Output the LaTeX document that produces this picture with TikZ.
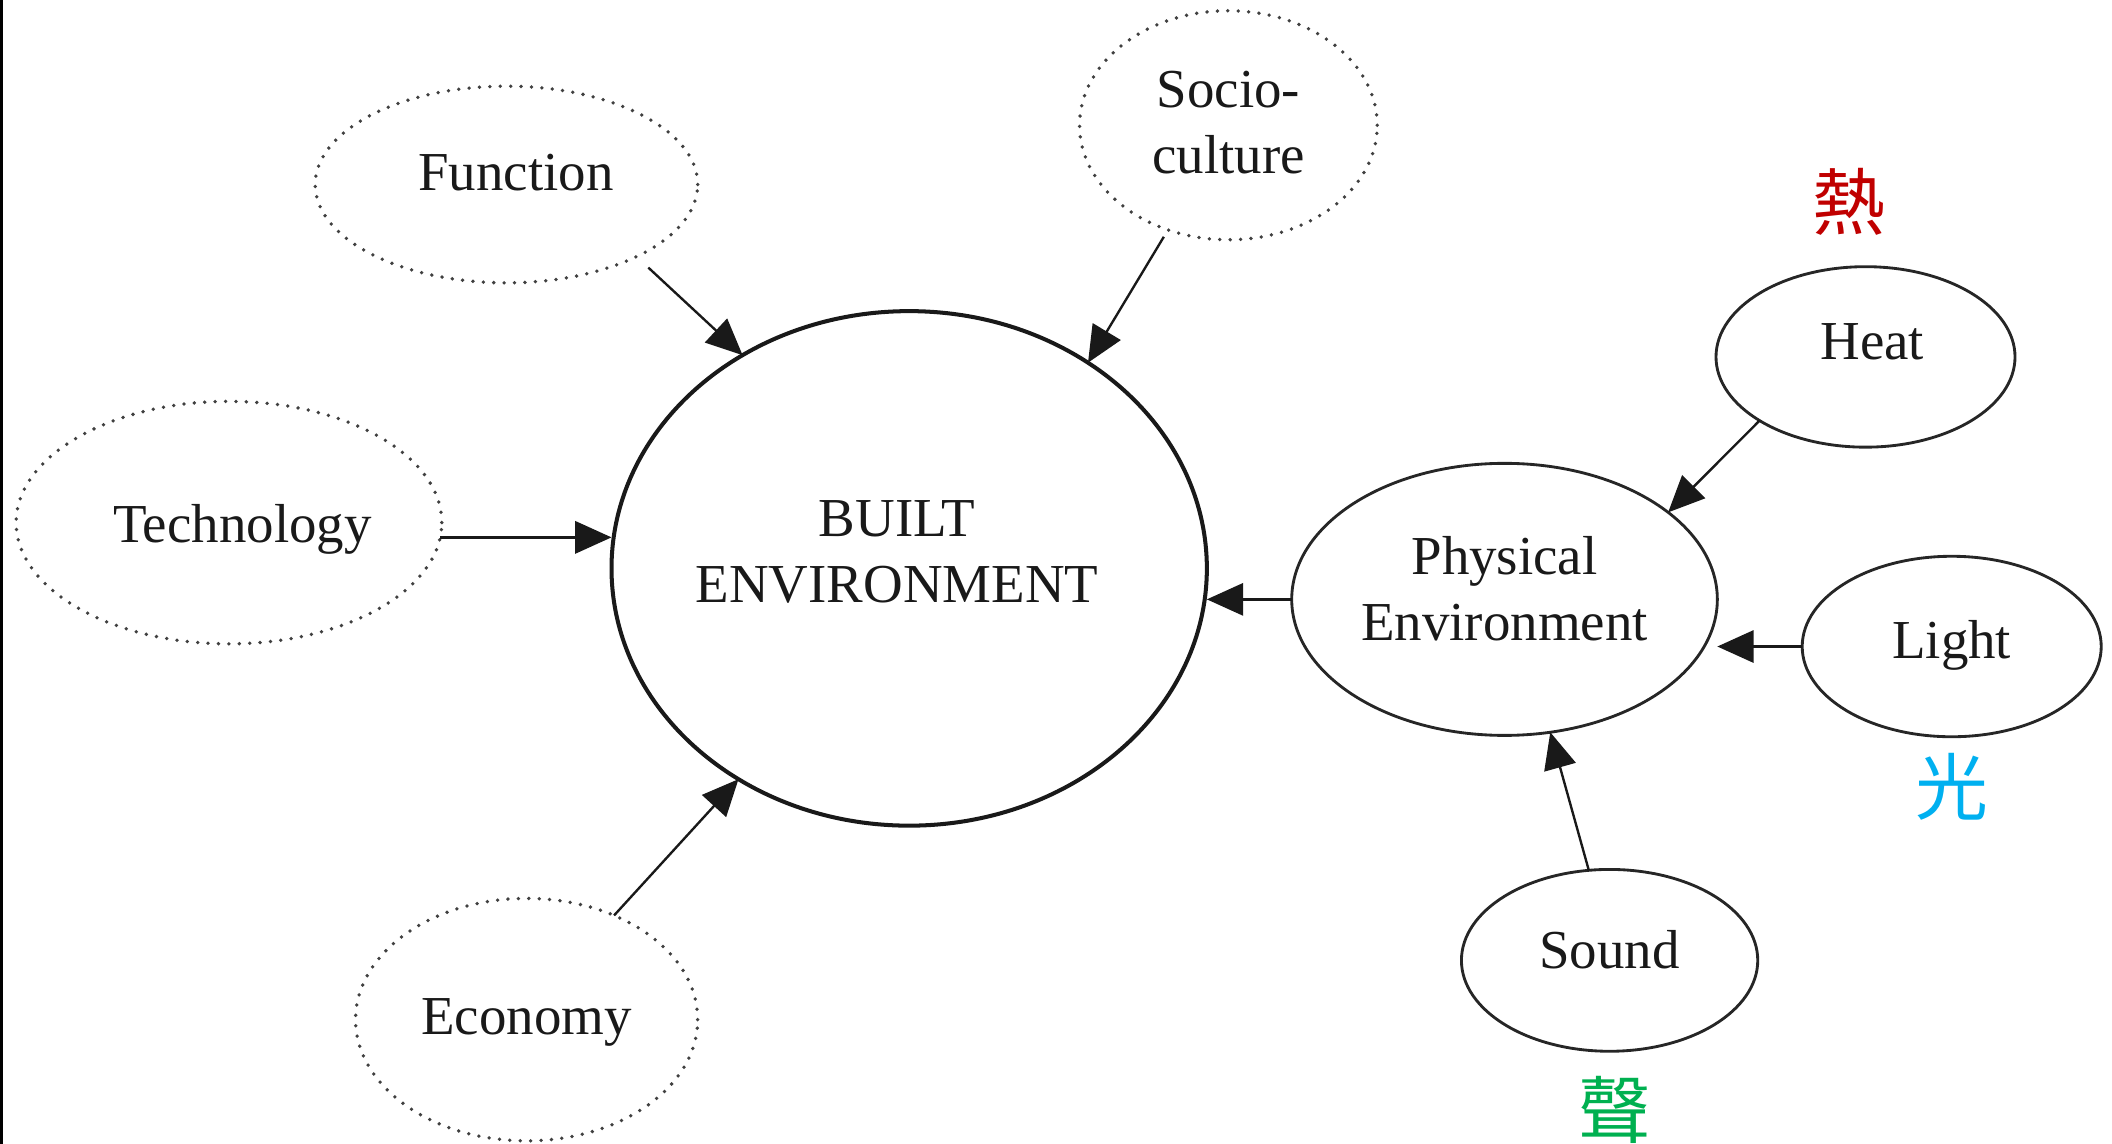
\documentclass[tikz,border=0pt]{standalone}
\usepackage{fontspec}
\setmainfont{Liberation Serif}
\newfontfamily\cjk{Noto Sans CJK TC}
\usetikzlibrary{arrows.meta,shapes.geometric}
\definecolor{heatred}{HTML}{C00000}
\definecolor{lightblue}{HTML}{00B0F0}
\definecolor{soundgreen}{HTML}{00B050}
\begin{document}
\begin{tikzpicture}[x=0.1mm,y=-0.1mm,
  base/.style={ellipse, inner sep=0pt, outer sep=0pt},
  soft/.style={base, draw=black!75, line width=0.8pt, dash pattern=on 0pt off 2.2pt, line cap=round},
  hard/.style={base, draw=black!85, line width=0.6pt},
  core/.style={base, draw=black!90, line width=0.85pt},
  txt/.style={font=\fontsize{11.6}{14}\selectfont, align=center, inner sep=0pt, text=black!90},
  zh/.style={font=\cjk\fontsize{15.4}{16}\selectfont, inner sep=0pt},
  arr/.style={-{Triangle[length=2.7mm,width=2.4mm]}, line width=0.5pt, draw=black!90},
]
\useasboundingbox (0,0) rectangle (1568,849);
\fill[black] (0,0) rectangle (2.2,849);

% outer influences (dotted)
\node[soft, minimum width=28.4mm, minimum height=14.6mm,
      label={[txt,yshift=0.9mm,xshift=0.7mm]center:Function}] (fn) at (376,137) {};
\node[soft, minimum width=22.1mm, minimum height=17mm,
      label={[txt,yshift=0.2mm]center:{Socio-\\culture}}] (socio) at (912,93) {};
\node[soft, minimum width=31.6mm, minimum height=18mm,
      label={[txt,yshift=-0.5mm,xshift=1mm]center:Technology}] (tech) at (170,388) {};
\node[soft, minimum width=25.4mm, minimum height=18mm,
      label={[txt,yshift=-0.2mm]center:Economy}] (eco) at (391,757) {};

% built environment
\node[core, minimum width=44.2mm, minimum height=38.2mm,
      label={[txt,yshift=1.2mm,xshift=-0.9mm]center:{BUILT\\ENVIRONMENT}}] (be) at (675,422) {};

% physical environment and its factors
\node[hard, minimum width=31.6mm, minimum height=20.2mm,
      label={[txt,yshift=0.8mm]center:{Physical\\Environment}}] (pe) at (1117,445) {};
\node[hard, minimum width=22.2mm, minimum height=13.4mm,
      label={[txt,yshift=1.1mm,xshift=0.5mm]center:Heat}] (heat) at (1385,265) {};
\node[hard, minimum width=22.2mm, minimum height=13.4mm,
      label={[txt,yshift=0.1mm]center:Light}] (light) at (1449,480) {};
\node[hard, minimum width=22mm, minimum height=13.5mm,
      label={[txt,yshift=0.8mm]center:Sound}] (sound) at (1195,713) {};

% Chinese annotations
\node[zh, text=heatred] (zheat) at (1373,150) {熱};
\node[zh, text=lightblue] (zlight) at (1449,584) {光};
\node[zh, text=soundgreen] (zsound) at (1199,824) {聲};

% connectors
\draw[arr, shorten <=1.2mm] (fn.-29) -- (be.128);
\draw[arr, shorten <=0.6mm] (socio.240) -- (be.49);
\draw[arr] (tech.-4) -- (tech.-4 -| be.west);
\draw[arr] (eco.50) -- (be.231);
\draw[arr] (pe.west) -- (pe.west -| be.east);
\draw[arr] (heat.211) -- (pe.28);
\draw[arr] (light.west) -- (light.west -| pe.east);
\draw[arr] (sound.103) -- (pe.-71);
\end{tikzpicture}
\end{document}
